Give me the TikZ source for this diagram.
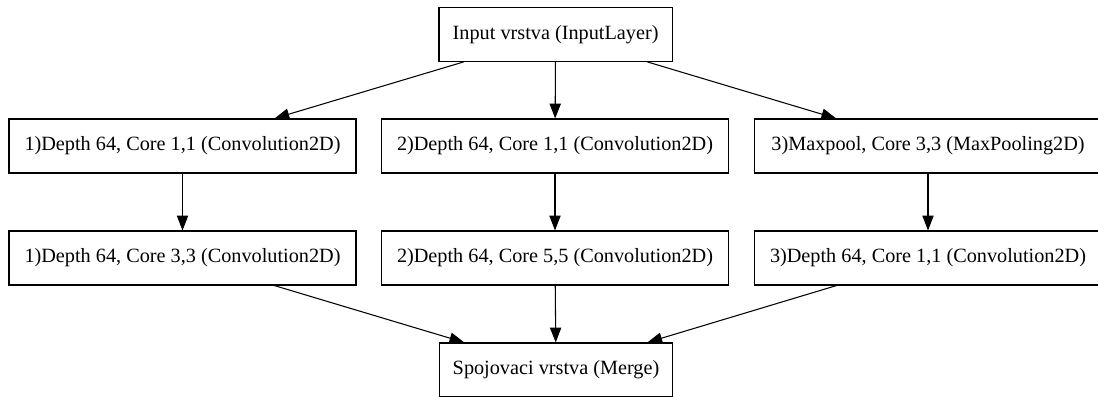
\documentclass[tikz,border=0pt]{standalone}
\usepackage{fontspec}
\setmainfont{Liberation Serif}
\usepackage{tikz}
\usetikzlibrary{arrows.meta}
\usepackage{xcolor}

\begin{document}
\begin{tikzpicture}[>={Triangle[length=3.7mm,width=2.8mm]},font=\fontsize{14.4}{17}\selectfont,line width=0.75pt,
  layer/.style={draw,inner sep=0pt,minimum height=1.35cm,minimum width=8.675cm},
  endlayer/.style={layer,minimum width=5.83cm}]
\useasboundingbox (0,0) rectangle (27.45,9.9);
\node[endlayer] (inp) at (13.89,9.04) {Input vrstva (InputLayer)};
\node[layer] (conva) at (4.5625,6.25) {1)Depth 64, Core 1,1 (Convolution2D)};
\node[layer] (convb) at (13.875,6.25) {2)Depth 64, Core 1,1 (Convolution2D)};
\node[layer] (pool) at (23.2,6.25) {3)Maxpool, Core 3,3 (MaxPooling2D)};
\node[layer] (convc) at (4.5625,3.45) {1)Depth 64, Core 3,3 (Convolution2D)};
\node[layer] (convd) at (13.875,3.45) {2)Depth 64, Core 5,5 (Convolution2D)};
\node[layer] (conve) at (23.2,3.45) {3)Depth 64, Core 1,1 (Convolution2D)};
\node[endlayer] (merge) at (13.9,0.65) {Spojovaci vrstva (Merge)};
\draw[->] (inp) -- (conva);
\draw[->] (inp) -- (convb);
\draw[->] (inp) -- (pool);
\draw[->] (conva) -- (convc);
\draw[->] (convb) -- (convd);
\draw[->] (pool) -- (conve);
\draw[->] (convc) -- (merge);
\draw[->] (convd) -- (merge);
\draw[->] (conve) -- (merge);
\end{tikzpicture}
\end{document}
